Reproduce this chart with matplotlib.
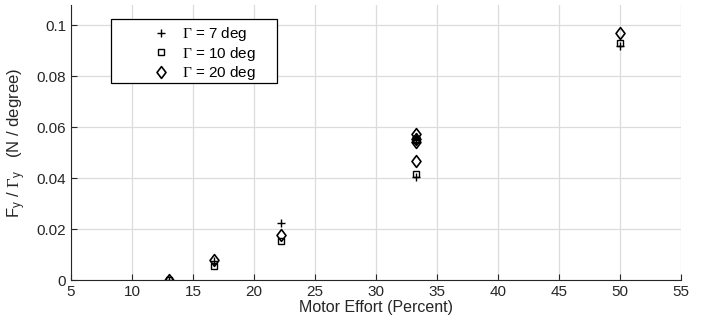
import matplotlib
matplotlib.use("Agg")
import matplotlib.pyplot as plt
from matplotlib.patches import Rectangle
from matplotlib.path import Path

plt.rcParams['font.family'] = ['Liberation Sans', 'DejaVu Sans']
plt.rcParams['mathtext.fontset'] = 'custom'
plt.rcParams['mathtext.rm'] = 'Liberation Serif'
plt.rcParams['mathtext.it'] = 'Liberation Sans'
plt.rcParams['mathtext.sf'] = 'Liberation Sans'

# Data
x7 = [13.0, 16.7, 22.2, 33.3, 33.3, 33.3, 50.0]
y7 = [0.0, 0.0075, 0.0223, 0.0405, 0.0550, 0.0560, 0.0918]
x10 = [13.0, 16.7, 22.2, 33.3, 33.3, 33.3, 50.0]
y10 = [0.0, 0.0055, 0.0155, 0.0415, 0.0548, 0.0555, 0.0930]
x20 = [13.0, 16.7, 22.2, 33.3, 33.3, 33.3, 33.3, 50.0]
y20 = [0.0, 0.0078, 0.0177, 0.0466, 0.0542, 0.0555, 0.0575, 0.0972]
labels = [r'$\mathrm{\Gamma}$ = 7 deg', r'$\mathrm{\Gamma}$ = 10 deg', r'$\mathrm{\Gamma}$ = 20 deg']
xticks = [5, 10, 15, 20, 25, 30, 35, 40, 45, 50, 55]
yticks = [0, 0.02, 0.04, 0.06, 0.08, 0.1]
yticklabels = ['0', '0.02', '0.04', '0.06', '0.08', '0.1']

W, H = 706, 324
fig = plt.figure(figsize=(W / 100, H / 100), dpi=100)
ax = fig.add_axes([71/W, 44/H, 610/W, 275/H])

diamond = Path([(0, 1), (0.76, 0), (0, -1), (-0.76, 0), (0, 1)],
               [Path.MOVETO, Path.LINETO, Path.LINETO, Path.LINETO, Path.CLOSEPOLY])

ax.plot(x7, y7, linestyle='none', marker='+', color='k', markersize=6, markeredgewidth=1.0, label=labels[0])
ax.plot(x10, y10, linestyle='none', marker='s', color='k', markerfacecolor='none', markersize=5, markeredgewidth=1.0, label=labels[1])
ax.plot(x20, y20, linestyle='none', marker=diamond, color='k', markerfacecolor='none', markersize=8.5, markeredgewidth=1.2, label=labels[2])

ax.set_xlim(5, 55)
ax.set_ylim(0, 0.108)
ax.set_xticks(xticks)
ax.set_yticks(yticks)
ax.set_yticklabels(yticklabels)
ax.grid(True, color='#dcdcdc', linewidth=0.9)
ax.set_axisbelow(True)
for s in ['top', 'right']:
    ax.spines[s].set_visible(False)
for s in ['left', 'bottom']:
    ax.spines[s].set_color('#262626')
ax.tick_params(direction='in', length=4, labelsize=11, colors='#262626', labelcolor='#262626')
ax.set_xlabel('Motor Effort (Percent)', fontsize=11.5, color='#262626', labelpad=1)
ax.set_ylabel(r'F$_{\mathsf{y}}$ / $\mathrm{\Gamma}_{\mathsf{y}}$   (N / degree)', fontsize=12, color='#262626', labelpad=6)

# legend frame box (figure pixels)
box = Rectangle((111 / W, 1 - 83 / H), (277 - 111) / W, (83 - 19) / H, transform=fig.transFigure,
                facecolor='white', edgecolor='k', linewidth=0.9, zorder=5, clip_on=False)
ax.add_patch(box)

leg = ax.legend(loc='upper left', bbox_to_anchor=(153 / W, 1 - 25 / H), bbox_transform=fig.transFigure,
                frameon=False, fontsize=11, borderpad=0, labelspacing=0.1, handletextpad=0.85,
                borderaxespad=0, handlelength=1.05, numpoints=1)
leg.set_zorder(6)

fig.savefig('out.png', dpi=100)
